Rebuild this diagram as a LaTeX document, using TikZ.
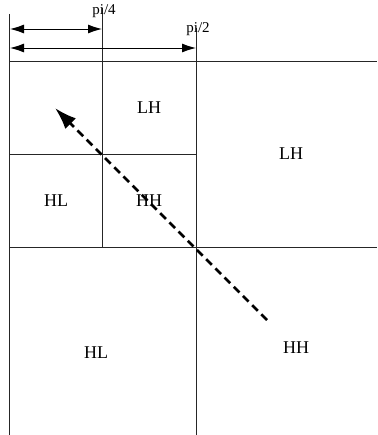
\documentclass[tikz,border=0pt]{standalone}
\usepackage{fontspec}
\setmainfont{Liberation Serif}
\usetikzlibrary{arrows.meta, positioning}

\tikzset{
  grid/.style={line width=0.9pt, black!85},
  dim/.style={line width=0.9pt, {Latex[length=14pt,width=9pt]}-{Latex[length=14pt,width=9pt]}},
  band/.style={font=\fontsize{18}{20}\selectfont, inner sep=1pt},
  freq/.style={font=\fontsize{15}{17}\selectfont, inner sep=0pt, anchor=base},
  scan/.style={line width=2.8pt, dash pattern=on 8pt off 5pt, -{Latex[length=22pt,width=15pt]}}
}

\begin{document}
\begin{tikzpicture}[x=1pt, y=-1pt]
\useasboundingbox (0,0) rectangle (377,435);

% grid lines of the decomposition
\draw[grid] (9,14) -- (9,435);
\draw[grid] (102,8) -- (102,247);
\draw[grid] (196,28) -- (196,435);
\draw[grid] (9,61) -- (377,61);
\draw[grid] (9,154) -- (196,154);
\draw[grid] (9,247) -- (377,247);

% frequency marks
\coordinate (o1) at (10,29);
\coordinate (q1) at (102,29);
\coordinate (o2) at (10,48);
\coordinate (q2) at (196,48);
\draw[dim] (o1) -- (q1);
\draw[dim] (o2) -- (q2);
\node[freq] (pi4) at (104,15) {pi/4};
\node[freq] (pi2) at (198,33) {pi/2};

% sub-band labels
\node[band] (lh2) at (149,108) {LH};
\node[band] (hl2) at (56,201) {HL};
\node[band] (hh2) at (149,201) {HH};
\node[band] (lh1) at (291,154) {LH};
\node[band] (hl1) at (96,353) {HL};
\node[band] (hh1) at (296,348) {HH};

% scan direction
\coordinate (s0) at (267,320);
\coordinate (s1) at (55,108);
\draw[scan] (s0) -- (s1);
\end{tikzpicture}
\end{document}
